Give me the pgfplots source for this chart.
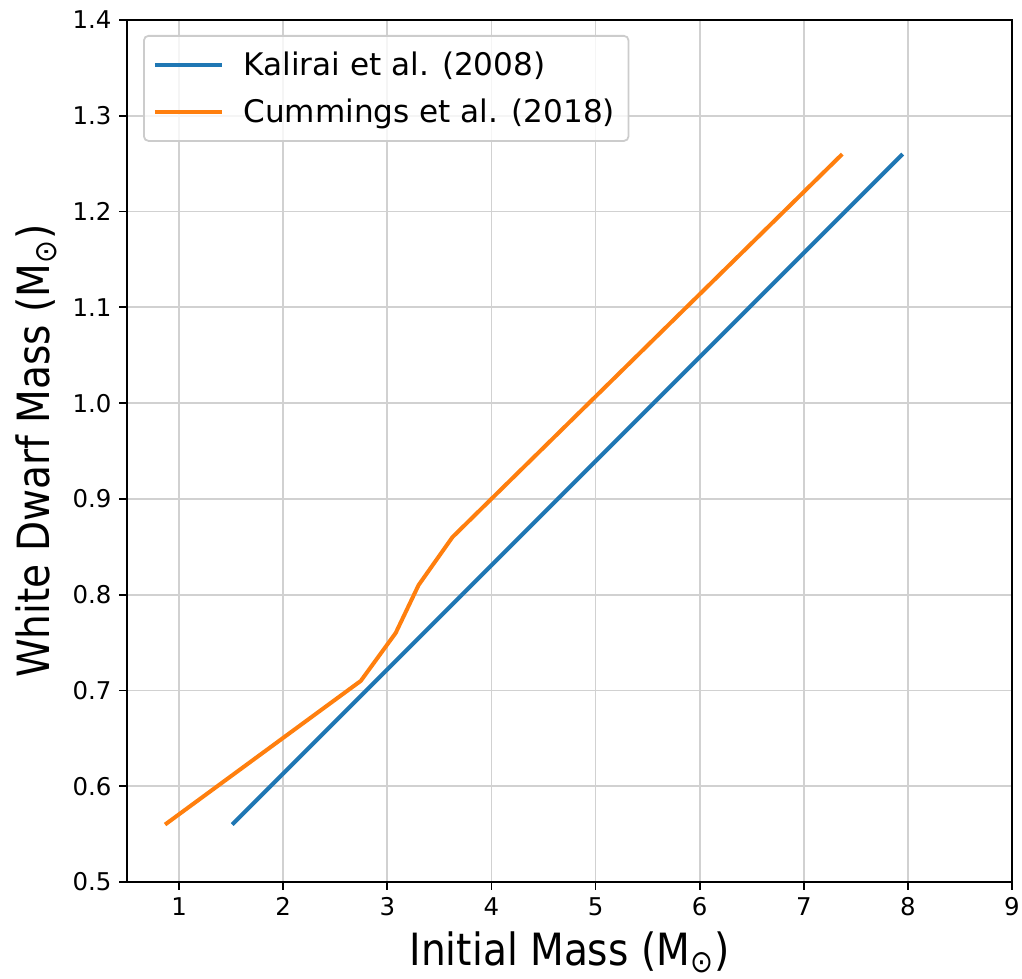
\documentclass[border=0pt]{standalone}
\usepackage{pgfplots}
\pgfplotsset{compat=1.18}
\usepackage{fontspec}
\setmainfont{DejaVu Sans}
\newfontfamily\labelfont[FakeStretch=0.88]{DejaVu Sans}
\usetikzlibrary{calc}
\definecolor{mplblue}{HTML}{1F77B4}
\definecolor{mplorange}{HTML}{FF7F0E}
\begin{document}
\begin{tikzpicture}
\begin{axis}[
  scale only axis,
  width=398.3pt, height=388pt,
  xmin=0.5, xmax=9, ymin=0.5, ymax=1.4,
  xtick={1,2,3,4,5,6,7,8,9},
  ytick={0.5,0.6,0.7,0.8,0.9,1.0,1.1,1.2,1.3,1.4},
  yticklabel style={/pgf/number format/.cd, fixed, fixed zerofill, precision=1},
  /pgf/number format/assume math mode=true,
  tick label style={font=\fontsize{11}{13}\selectfont},
  tick align=outside, tick pos=left,
  major tick length=3.5pt,
  every tick/.style={black, line width=0.8pt},
  axis line style={black, line width=0.8pt},
  grid=major,
  major grid style={line width=0.8pt, black!18},
  xlabel={Initial Mass (M\textsubscript{⊙})},
  ylabel={White Dwarf Mass (M\textsubscript{⊙})},
  label style={font=\labelfont\fontsize{20}{24}\selectfont},
  legend cell align=left,
  legend style={at={(axis description cs:0,1)}, anchor=north west,
    xshift=7.2pt, yshift=-6.75pt,
    draw=black!20, line width=0.8pt, rounded corners=2pt, fill=white, fill opacity=0.8, text opacity=1,
    font=\fontsize{14}{17}\selectfont, row sep=5pt, column sep=7pt,
    inner xsep=4pt, inner ysep=5pt},
  legend image code/.code={\draw[#1] (0pt,0pt) -- (30pt,0pt);},
]
\addplot[mplblue, line width=1.8pt] coordinates {(1.51,0.56) (7.95,1.26)};
\addlegendentry{Kalirai et al. (2008)}
\addplot[mplorange, line width=1.8pt] coordinates {
  (0.865,0.56) (2.745,0.71) (3.08,0.76) (3.30,0.81) (3.625,0.86) (7.37,1.26)};
\addlegendentry{Cummings et al. (2018)}
\coordinate (SW) at (rel axis cs:0,0);
\coordinate (NE) at (rel axis cs:1,1);
\end{axis}
\pgfresetboundingbox
\useasboundingbox ($(SW)+(-57.2pt,-43.2pt)$) rectangle ($(NE)+(4.5pt,9pt)$);
\end{tikzpicture}
\end{document}
